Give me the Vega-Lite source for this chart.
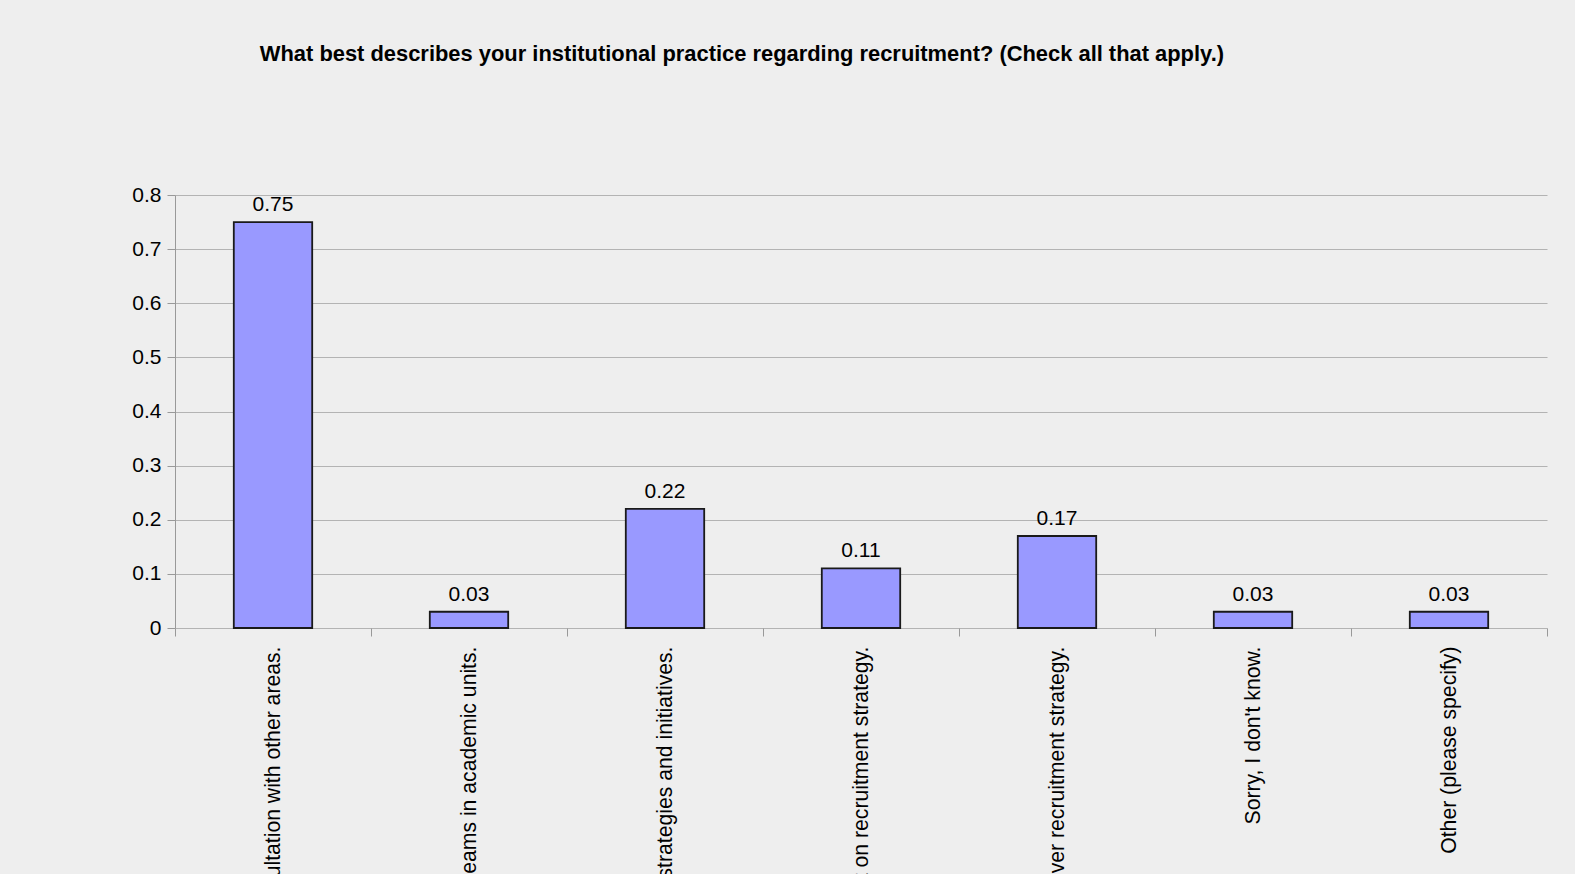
{
  "$schema": "https://vega.github.io/schema/vega-lite/v6.json",
  "width": 1372,
  "height": 433,
  "autosize": {"type": "none"},
  "padding": {"left": 175, "top": 195, "right": 28, "bottom": 246},
  "background": "#eeeeee",
  "config": {
    "view": {"stroke": null},
    "font": "Liberation Sans"
  },
  "title": {
    "text": "What best describes your institutional practice regarding recruitment? (Check all that apply.)",
    "anchor": "start",
    "dx": 128,
    "offset": 101,
    "baseline": "alphabetic",
    "font": "Liberation Sans",
    "fontSize": 21.9,
    "fontWeight": "bold",
    "color": "#000000"
  },
  "data": {
    "values": [
      {"option": "Recruitment is centralized and coordinated in consultation with other areas.", "share": 0.75},
      {"option": "Recruitment is decentralized and handled by separate teams in academic units.", "share": 0.03},
      {"option": "Central and academic units collaborate closely on recruitment strategies and initiatives.", "share": 0.22},
      {"option": "Academic units are consulted but have limited input on recruitment strategy.", "share": 0.11},
      {"option": "Academic units have little or no influence whatsoever over recruitment strategy.", "share": 0.17},
      {"option": "Sorry, I don't know.", "share": 0.03},
      {"option": "Other (please specify)", "share": 0.03}
    ]
  },
  "encoding": {
    "x": {
      "field": "option",
      "type": "nominal",
      "sort": null,
      "scale": {"paddingInner": 0, "paddingOuter": 0},
      "axis": {
        "title": null,
        "domain": false,
        "grid": false,
        "tickBand": "extent",
        "tickSize": 8,
        "tickColor": "#999999",
        "tickWidth": 1,
        "labelAngle": -90,
        "labelAlign": "right",
        "labelBaseline": "middle",
        "labelPadding": 10,
        "labelFont": "Liberation Sans",
        "labelFontSize": 21.2,
        "labelColor": "#000000",
        "labelLimit": 0,
        "labelOverlap": false
      }
    },
    "y": {
      "field": "share",
      "type": "quantitative",
      "scale": {"domain": [0, 0.8], "nice": false},
      "axis": {
        "title": null,
        "values": [0, 0.1, 0.2, 0.3, 0.4, 0.5, 0.6, 0.7, 0.8],
        "format": "~g",
        "grid": true,
        "gridColor": "#b3b3b3",
        "gridWidth": 1,
        "domain": true,
        "domainColor": "#999999",
        "tickColor": "#999999",
        "tickSize": 8,
        "labelPadding": 6,
        "labelFont": "Liberation Sans",
        "labelFontSize": 21,
        "labelColor": "#000000"
      }
    }
  },
  "layer": [
    {
      "mark": {"type": "bar", "width": {"band": 0.4}, "fill": "#9999ff", "stroke": "#1a1a1a", "strokeWidth": 1.8}
    },
    {
      "mark": {"type": "text", "baseline": "alphabetic", "dy": -11, "font": "Liberation Sans", "fontSize": 21, "color": "#000000"},
      "encoding": {"text": {"field": "share", "type": "quantitative", "format": "~g"}}
    }
  ]
}
